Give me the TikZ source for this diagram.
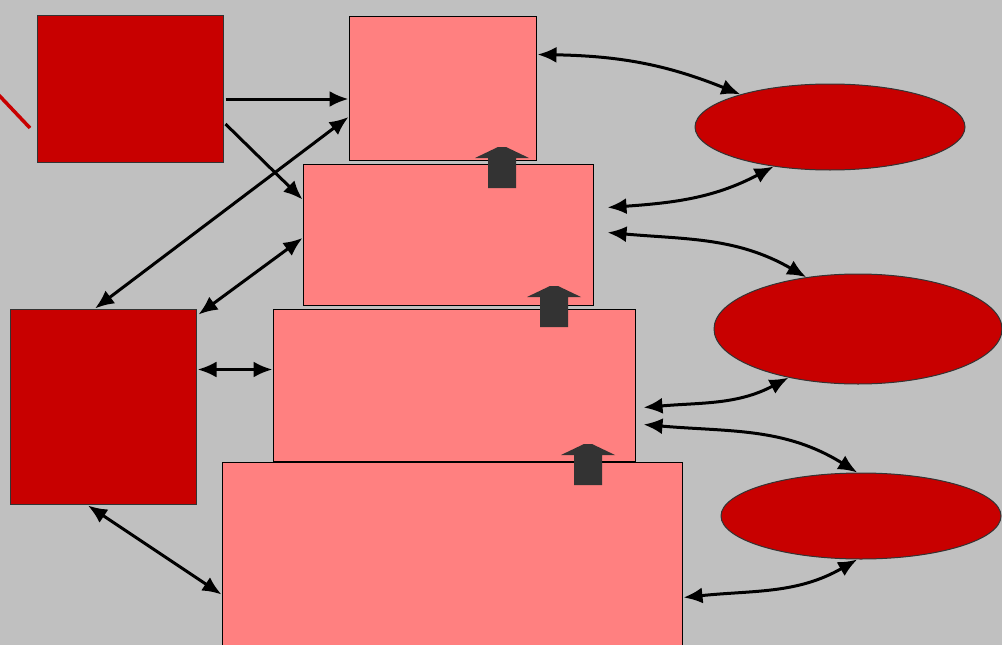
\documentclass[tikz,border=0pt]{standalone}
\usetikzlibrary{arrows.meta,calc,shapes.geometric}
\definecolor{bggray}{RGB}{192,192,192}
\definecolor{darkred}{RGB}{200,0,0}
\definecolor{lightred}{RGB}{255,128,128}
\definecolor{arrowgray}{RGB}{51,51,51}
\begin{document}
\begin{tikzpicture}[x=1pt,y=-1pt,
    redbox/.style={rectangle,fill=darkred,draw=black!80,line width=1pt,inner sep=0pt},
    pinkbox/.style={rectangle,fill=lightred,draw=black,line width=1pt,inner sep=0pt},
    redoval/.style={ellipse,fill=darkred,draw=black!80,line width=1pt,inner sep=0pt},
    link/.style={line width=3pt,-{Latex[length=19pt,width=16pt]}},
    both/.style={line width=3pt,{Latex[length=19pt,width=16pt]}-{Latex[length=19pt,width=16pt]}},
    uparrow/.pic={
      \fill[arrowgray] (-14,0) -- (-14,-30) -- (-27,-30) -- (-4,-41)
        -- (4,-41) -- (27,-30) -- (14,-30) -- (14,0) -- cycle;
    }]
    \useasboundingbox (0,0) rectangle (1002,645);
    \fill[bggray] (0,0) rectangle (1002,645);
    \clip (0,0) rectangle (1002,645);

    \coordinate (stray) at (30,128);
    \draw[darkred,line width=3.5pt] (-6,90) -- (stray);

    \node[redbox,minimum width=186pt,minimum height=147pt] (src) at (130,88.5) {};
    \node[redbox,minimum width=186pt,minimum height=195pt] (hub) at (103,406.5) {};

    \node[pinkbox,minimum width=187pt,minimum height=144pt] (lvlA) at (442.5,88) {};
    \node[pinkbox,minimum width=290pt,minimum height=141pt] (lvlB) at (448,234.5) {};
    \node[pinkbox,minimum width=362pt,minimum height=152pt] (lvlC) at (454,385) {};
    \node[pinkbox,minimum width=460pt,minimum height=200pt] (lvlD) at (452,562) {};

    \node[redoval,minimum width=270pt,minimum height=86pt] (ovA) at (830,127) {};
    \node[redoval,minimum width=288pt,minimum height=110pt] (ovB) at (858,329) {};
    \node[redoval,minimum width=280pt,minimum height=86pt] (ovC) at (861,516) {};

    \pic at (502,188) {uparrow};
    \pic at (554,327) {uparrow};
    \pic at (588,485) {uparrow};

    \draw[link] ($(src.east)+(2,10.5)$) -- ($(lvlA.west)+(0,11)$);
    \draw[link] ($(src.east)+(2,35.5)$) -- ($(lvlB.north west)+(0,36)$);

    \draw[both] ($(lvlA.west)+(0,29)$) -- ($(hub.north)+(-8,0)$);
    \draw[both] ($(lvlB.west)+(0,3.5)$) -- ($(hub.north east)+(2,6)$);
    \draw[both] ($(hub.east)+(1,-37)$) -- ($(lvlC.west)+(0,-15.5)$);
    \draw[both] ($(hub.south)+(-15,1)$) -- ($(lvlD.north west)+(0,133)$);

    \draw[both] ($(lvlA.north east)+(1,39)$) to[out=-1,in=158] (ovA.160);
    \draw[both] ($(lvlB.north east)+(14,44)$) to[out=4,in=208] (ovA.215);
    \draw[both] ($(lvlB.north east)+(14,69)$) to[out=-5,in=150] (ovB.135);
    \draw[both] ($(lvlC.north east)+(8,99)$) to[out=5,in=208] (ovB.215);
    \draw[both] ($(lvlC.north east)+(8,116)$) to[out=-5,in=148] (ovC.95);
    \draw[both] ($(lvlD.north east)+(1,136)$) to[out=6,in=210] (ovC.265);
\end{tikzpicture}
\end{document}
